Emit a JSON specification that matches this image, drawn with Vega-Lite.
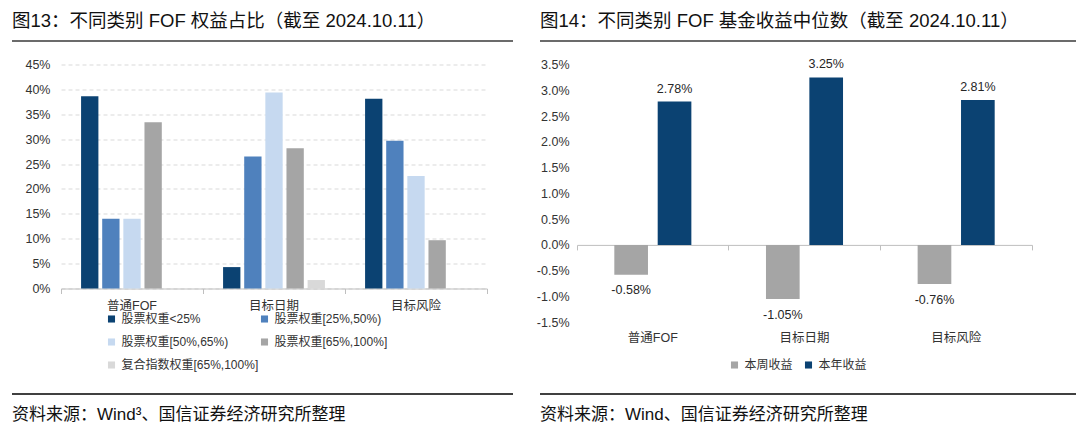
{
  "$schema": "https://vega.github.io/schema/vega-lite/v6.json",
  "padding": {"left": 12, "top": 11, "right": 0, "bottom": 0},
  "background": "white",
  "config": {
    "font": "Liberation Sans, Noto Sans CJK SC",
    "view": {"stroke": null},
    "locale": {"number": {"decimal": ".", "thousands": ",", "grouping": [3], "currency": ["", ""], "minus": "-"}},
    "title": {"fontSize": 18.5, "fontWeight": "normal", "color": "#111111", "anchor": "start"},
    "axis": {"labelFontSize": 12.5, "labelColor": "#333333"},
    "legend": {"labelFontSize": 12, "labelColor": "#333333", "symbolType": "square", "symbolSize": 50, "symbolStrokeWidth": 0}
  },
  "spacing": 11.5,
  "vconcat": [
    {
      "spacing": 27,
      "hconcat": [
        {
          "title": {"text": "图13：不同类别 FOF 权益占比（截至 2024.10.11）", "offset": 5},
          "width": 501,
          "height": 2,
          "view": {"fill": "#6b6b6b", "stroke": null},
          "data": {"values": [{"k": 0}]},
          "mark": {"type": "text"},
          "encoding": {"text": {"value": ""}}
        },
        {
          "title": {"text": "图14：不同类别 FOF 基金收益中位数（截至 2024.10.11）", "offset": 5},
          "width": 536,
          "height": 2,
          "view": {"fill": "#6b6b6b", "stroke": null},
          "data": {"values": [{"k": 0}]},
          "mark": {"type": "text"},
          "encoding": {"text": {"value": ""}}
        }
      ]
    },
    {
      "spacing": 48,
      "resolve": {
        "scale": {"x": "independent", "xOffset": "independent", "y": "independent", "color": "independent"},
        "legend": {"color": "independent"},
        "axis": {"x": "independent", "y": "independent"}
      },
      "hconcat": [
        {
          "width": 475,
          "height": 224,
          "data": {"values": [
            {"类别": "普通FOF", "系列": "股票权重<25%", "占比": 0.386},
            {"类别": "普通FOF", "系列": "股票权重[25%,50%)", "占比": 0.140},
            {"类别": "普通FOF", "系列": "股票权重[50%,65%)", "占比": 0.140},
            {"类别": "普通FOF", "系列": "股票权重[65%,100%]", "占比": 0.334},
            {"类别": "普通FOF", "系列": "复合指数权重[65%,100%]", "占比": 0},
            {"类别": "目标日期", "系列": "股票权重<25%", "占比": 0.043},
            {"类别": "目标日期", "系列": "股票权重[25%,50%)", "占比": 0.265},
            {"类别": "目标日期", "系列": "股票权重[50%,65%)", "占比": 0.394},
            {"类别": "目标日期", "系列": "股票权重[65%,100%]", "占比": 0.282},
            {"类别": "目标日期", "系列": "复合指数权重[65%,100%]", "占比": 0.017},
            {"类别": "目标风险", "系列": "股票权重<25%", "占比": 0.381},
            {"类别": "目标风险", "系列": "股票权重[25%,50%)", "占比": 0.297},
            {"类别": "目标风险", "系列": "股票权重[50%,65%)", "占比": 0.226},
            {"类别": "目标风险", "系列": "股票权重[65%,100%]", "占比": 0.097},
            {"类别": "目标风险", "系列": "复合指数权重[65%,100%]", "占比": 0}
          ]},
          "mark": {"type": "bar"},
          "encoding": {
            "x": {
              "field": "类别", "type": "nominal",
              "sort": ["普通FOF", "目标日期", "目标风险"],
              "scale": {"paddingInner": 0, "paddingOuter": 0, "range": [49, 475]},
              "axis": {"title": null, "labelAngle": 0, "bandPosition": 1, "tickExtra": true, "tickSize": 5, "tickColor": "#BFBFBF", "domainColor": "#BFBFBF", "labelPadding": 6, "grid": false}
            },
            "xOffset": {
              "field": "系列", "type": "nominal",
              "sort": ["股票权重<25%", "股票权重[25%,50%)", "股票权重[50%,65%)", "股票权重[65%,100%]", "复合指数权重[65%,100%]"],
              "scale": {"paddingInner": 0.18, "paddingOuter": 0.95}
            },
            "y": {
              "field": "占比", "type": "quantitative",
              "scale": {"domain": [0, 0.45]},
              "axis": {"title": null, "format": ".0%", "values": [0, 0.05, 0.1, 0.15, 0.2, 0.25, 0.3, 0.35, 0.4, 0.45], "domain": false, "ticks": false, "offset": -49, "labelPadding": 11, "gridDash": [4, 3], "gridColor": "#D9D9D9"}
            },
            "color": {
              "field": "系列", "type": "nominal",
              "scale": {
                "domain": ["股票权重<25%", "股票权重[25%,50%)", "股票权重[50%,65%)", "股票权重[65%,100%]", "复合指数权重[65%,100%]"],
                "range": ["#0B4272", "#4F81BD", "#C6D9F0", "#A5A5A5", "#D9D9D9"]
              },
              "legend": {"title": null, "orient": "none", "direction": "horizontal", "legendX": 89, "legendY": 244, "columns": 2, "padding": 4.5, "labelOffset": 4, "rowPadding": 11, "columnPadding": -5, "labelLimit": 300}
            }
          }
        },
        {
          "width": 455,
          "height": 257.7,
          "data": {"values": [
            {"类别": "普通FOF", "类型": "本周收益", "收益": -0.0058},
            {"类别": "普通FOF", "类型": "本年收益", "收益": 0.0278},
            {"类别": "目标日期", "类型": "本周收益", "收益": -0.0105},
            {"类别": "目标日期", "类型": "本年收益", "收益": 0.0325},
            {"类别": "目标风险", "类型": "本周收益", "收益": -0.0076},
            {"类别": "目标风险", "类型": "本年收益", "收益": 0.0281}
          ]},
          "encoding": {
            "x": {
              "field": "类别", "type": "nominal",
              "sort": ["普通FOF", "目标日期", "目标风险"],
              "scale": {"paddingInner": 0, "paddingOuter": 0},
              "axis": {"title": null, "labelAngle": 0, "bandPosition": 1, "tickExtra": true, "offset": -77.3, "tickSize": 5, "tickColor": "#BFBFBF", "domainColor": "#BFBFBF", "labelPadding": 82, "grid": false}
            },
            "xOffset": {
              "field": "类型", "type": "nominal",
              "sort": ["本周收益", "本年收益"],
              "scale": {"paddingInner": 0.224, "paddingOuter": 0.86}
            },
            "y": {
              "field": "收益", "type": "quantitative",
              "scale": {"domain": [-0.015, 0.035]},
              "axis": {"title": null, "format": ".1%", "values": [-0.015, -0.01, -0.005, 0, 0.005, 0.01, 0.015, 0.02, 0.025, 0.03, 0.035], "domain": false, "ticks": false, "grid": false, "labelPadding": 8}
            }
          },
          "layer": [
            {
              "mark": {"type": "bar"},
              "encoding": {
                "color": {
                  "field": "类型", "type": "nominal",
                  "scale": {"domain": ["本周收益", "本年收益"], "range": ["#A5A5A5", "#0B4272"]},
                  "legend": {"title": null, "orient": "none", "direction": "horizontal", "legendX": 146, "legendY": 289, "padding": 5.5, "labelOffset": 4, "columnPadding": 9}
                }
              }
            },
            {
              "transform": [{"filter": "datum['收益'] >= 0"}],
              "mark": {"type": "text", "baseline": "bottom", "dy": -6, "fontSize": 12.5, "color": "#262626"},
              "encoding": {"text": {"field": "收益", "type": "quantitative", "format": ".2%"}}
            },
            {
              "transform": [{"filter": "datum['收益'] < 0"}],
              "mark": {"type": "text", "baseline": "top", "dy": 9.5, "fontSize": 12.5, "color": "#262626"},
              "encoding": {"text": {"field": "收益", "type": "quantitative", "format": ".2%"}}
            }
          ]
        }
      ]
    },
    {
      "spacing": 27,
      "hconcat": [
        {
          "title": {"text": "资料来源：Wind³、国信证券经济研究所整理", "orient": "bottom", "offset": 8, "fontSize": 17},
          "width": 501,
          "height": 2,
          "view": {"fill": "#404040", "stroke": null},
          "data": {"values": [{"k": 0}]},
          "mark": {"type": "text"},
          "encoding": {"text": {"value": ""}}
        },
        {
          "title": {"text": "资料来源：Wind、国信证券经济研究所整理", "orient": "bottom", "offset": 8, "fontSize": 17},
          "width": 536,
          "height": 2,
          "view": {"fill": "#404040", "stroke": null},
          "data": {"values": [{"k": 0}]},
          "mark": {"type": "text"},
          "encoding": {"text": {"value": ""}}
        }
      ]
    }
  ]
}
